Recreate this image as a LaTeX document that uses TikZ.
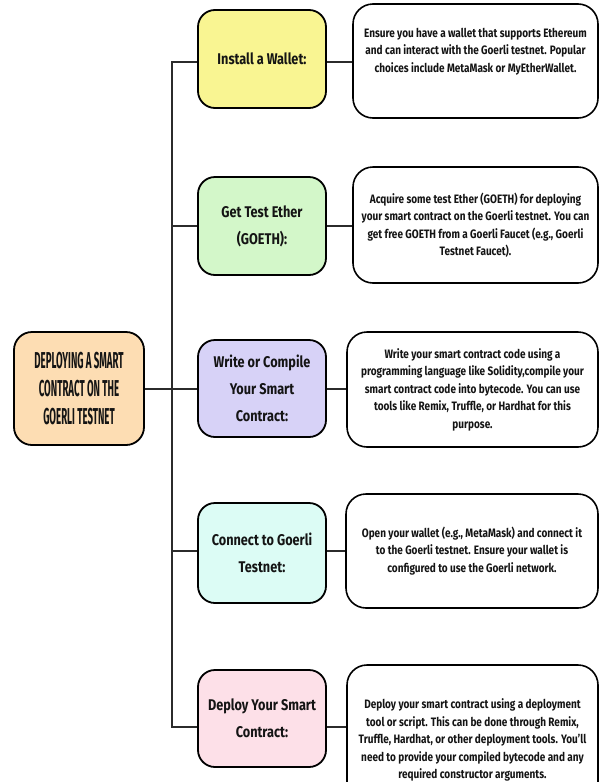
\documentclass[tikz,border=0pt]{standalone}
\usepackage{fontspec}
\setmainfont{Fira Sans}[FakeStretch=0.82]
\newfontfamily\rootfamily{Fira Sans}[FakeStretch=0.42]
\definecolor{txt}{HTML}{141414}
\definecolor{linkc}{HTML}{2B2B2B}
\definecolor{corange}{HTML}{FDDDB3}
\definecolor{cyellow}{HTML}{F9F592}
\definecolor{cgreen}{HTML}{D3F7C9}
\definecolor{clav}{HTML}{D7D2F7}
\definecolor{ccyan}{HTML}{DCFCF5}
\definecolor{cpink}{HTML}{FDE0E8}
\tikzset{
  rootbox/.style={draw=black, line width=1.8pt, rounded corners=18pt, fill=corange,
    minimum width=130pt, minimum height=113pt, inner sep=0pt, align=center,
    font=\rootfamily\bfseries\fontsize{23}{28}\selectfont, text=txt},
  stepbox/.style={draw=black, line width=1.8pt, rounded corners=17pt,
    minimum width=128pt, inner sep=0pt, align=center,
    font=\bfseries\fontsize{15.5}{27}\selectfont, text=txt},
  descbox/.style={draw=black, line width=1.6pt, fill=white, rounded corners=20pt,
    inner sep=0pt, align=center,
    font=\bfseries\fontsize{12.2}{17.5}\selectfont, text=txt},
  link/.style={draw=linkc, line width=2pt},
}
\begin{document}
\begin{tikzpicture}[x=1pt,y=-1pt]
\clip (0,0) rectangle (600,782);
\fill[white] (0,0) rectangle (600,782);

% root
\node[rootbox] (root) at (79,388.5) {DEPLOYING A SMART\\CONTRACT ON THE\\GOERLI TESTNET};

% steps
\node[stepbox, fill=cyellow, minimum height=98pt] (s1) at (262,59) {Install a Wallet:};
\node[stepbox, fill=cgreen, minimum height=98pt] (s2) at (262,226) {Get Test Ether\\(GOETH):};
\node[stepbox, fill=clav, minimum height=97pt] (s3) at (262,388.5) {Write or Compile\\Your Smart\\Contract:};
\node[stepbox, fill=ccyan, minimum height=100pt] (s4) at (262,553) {Connect to Goerli\\Testnet:};
\node[stepbox, fill=cpink, minimum height=97pt] (s5) at (262,718.5) {Deploy Your Smart\\Contract:};

% descriptions
\node[descbox, minimum width=245pt, minimum height=114pt] (d1) at (475.5,61)
  {Ensure you have a wallet that supports Ethereum\\and can interact with the Goerli testnet. Popular\\choices include MetaMask or MyEtherWallet.\\[4pt]};
\node[descbox, minimum width=245pt, minimum height=116pt] (d2) at (475.5,225)
  {Acquire some test Ether (GOETH) for deploying\\your smart contract on the Goerli testnet. You can\\get free GOETH from a Goerli Faucet (e.g., Goerli\\Testnet Faucet).};
\node[descbox, minimum width=251pt, minimum height=115pt] (d3) at (472.5,389.5)
  {Write your smart contract code using a\\programming language like Solidity,compile your\\smart contract code into bytecode. You can use\\tools like Remix, Truffle, or Hardhat for this\\purpose.};
\node[descbox, minimum width=252pt, minimum height=114pt] (d4) at (472,551)
  {Open your wallet (e.g., MetaMask) and connect it\\to the Goerli testnet. Ensure your wallet is\\configured to use the Goerli network.};
\node[descbox, minimum width=251pt, minimum height=150pt] (d5) at (472.5,740)
  {Deploy your smart contract using a deployment\\tool or script. This can be done through Remix,\\Truffle, Hardhat, or other deployment tools. You'll\\need to provide your compiled bytecode and any\\required constructor arguments.};

% trunk
\coordinate (ttop) at (172,62);
\coordinate (tbot) at (172,727);
\coordinate (tmid) at (172,388.5);
\coordinate (t2) at (172,226);
\coordinate (t4) at (172,551);

\draw[link, line cap=rect] (ttop) -- (tbot);
\draw[link] (root.east) -- (tmid);
\draw[link] (ttop) -- (s1.west |- ttop);
\draw[link] (t2) -- (s2.west |- t2);
\draw[link] (tmid) -- (s3.west |- tmid);
\draw[link] (t4) -- (s4.west |- t4);
\draw[link] (tbot) -- (s5.west |- tbot);

\draw[link] (s1.east |- ttop) -- (d1.west |- ttop);
\draw[link] (s2.east |- t2) -- (d2.west |- t2);
\draw[link] (s3.east |- tmid) -- (d3.west |- tmid);
\draw[link] (s4.east |- t4) -- (d4.west |- t4);
\draw[link] (s5.east |- tbot) -- (d5.west |- tbot);
\end{tikzpicture}
\end{document}
